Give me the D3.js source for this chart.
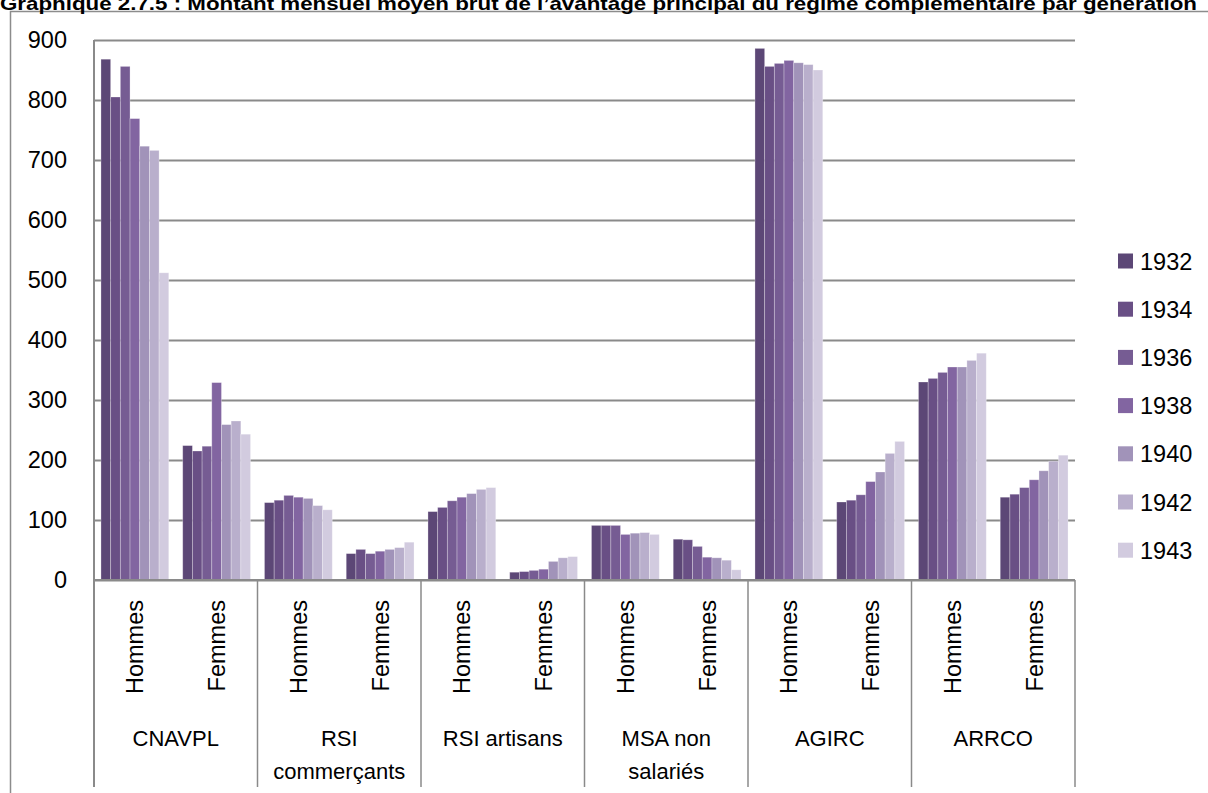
<!DOCTYPE html>
<html>
<head>
<meta charset="utf-8">
<script src="https://cdn.jsdelivr.net/npm/d3@7"></script>
<style>
  html, body { margin: 0; padding: 0; background: #fff; }
  svg { display: block; }
</style>
</head>
<body>
<svg id="chart" width="1208" height="793"></svg>
<script>
// ---- Data ----
const title = "Graphique 2.7.5 : Montant mensuel moyen brut de l’avantage principal du régime complémentaire par génération";
const groups = [["CNAVPL"], ["RSI", "commerçants"], ["RSI artisans"], ["MSA non", "salariés"], ["AGIRC"], ["ARRCO"]];
const sexes = ["Hommes", "Femmes"];
const years = ["1932", "1934", "1936", "1938", "1940", "1942", "1943"];
// values in order: CNAVPL H/F, RSI comm H/F, RSI art H/F, MSA H/F, AGIRC H/F, ARRCO H/F
const v1932 = [868, 224, 129, 44, 114, 13, 91, 68, 886, 130, 330, 138];
const v1934 = [805, 215, 133, 51, 121, 14, 91, 67, 856, 133, 336, 143];
const v1936 = [856, 223, 141, 44, 132, 16, 91, 56, 861, 142, 346, 154];
const v1938 = [769, 329, 138, 48, 138, 18, 76, 38, 866, 164, 355, 167];
const v1940 = [723, 259, 136, 51, 144, 31, 78, 37, 862, 180, 355, 182];
const v1942 = [716, 265, 124, 54, 151, 37, 79, 33, 859, 211, 366, 198];
const v1943 = [512, 243, 117, 63, 154, 39, 76, 17, 850, 231, 378, 208];
const seriesValues = [v1932, v1934, v1936, v1938, v1940, v1942, v1943];
const yTicks = [0, 100, 200, 300, 400, 500, 600, 700, 800, 900];
const colors = ["#5c4776", "#694f85", "#765c93", "#8265a1", "#a193b9", "#b9afcc", "#d2cbdf"];

// ---- Layout ----
const svg = d3.select("#chart");
const plot = { left: 94, right: 1075, top: 40, bottom: 580 };
const axisBottomEnd = 787;
const FONT = "'Liberation Sans', Arial, sans-serif";
const FS = 23.5;
const gridColor = "#8a8a8a";

// outer frame
svg.append("rect")
  .attr("x", 10.5).attr("y", 11.5)
  .attr("width", 1300).attr("height", 900)
  .attr("fill", "none").attr("stroke", "#8c8c8c").attr("stroke-width", 1.5);

// title
svg.append("text")
  .attr("x", 0).attr("y", 10)
  .attr("font-family", FONT).attr("font-weight", "bold")
  .attr("font-size", 19).attr("fill", "#000")
  .attr("textLength", 1197).attr("lengthAdjust", "spacingAndGlyphs")
  .text(title);

const subIdx = d3.range(groups.length * sexes.length);
const x0 = d3.scaleBand().domain(subIdx).range([plot.left, plot.right]).padding(0);
const x1 = d3.scaleBand().domain(years).range([0, x0.bandwidth()]).paddingInner(0).paddingOuter(0.72);
const y = d3.scaleLinear().domain([0, 900]).range([plot.bottom, plot.top]);

// gridlines + y labels via axis
const yAxis = d3.axisLeft(y).tickValues(yTicks).tickSize(-(plot.right - plot.left)).tickPadding(27).tickFormat(d3.format("d"));
const gy = svg.append("g").attr("transform", `translate(${plot.left},0)`).call(yAxis);
gy.select(".domain").remove();
gy.selectAll(".tick line").attr("stroke", gridColor).attr("stroke-width", 2);
gy.selectAll(".tick text").attr("font-family", FONT).attr("font-size", FS).attr("fill", "#000");

// bars
const barData = [];
seriesValues.forEach((vals, si) => {
  vals.forEach((v, i) => barData.push({ year: years[si], si, i, v }));
});
svg.append("g").selectAll("rect").data(barData).join("rect")
  .attr("x", d => x0(d.i) + x1(d.year))
  .attr("y", d => y(d.v))
  .attr("width", x1.bandwidth())
  .attr("height", d => y(0) - y(d.v))
  .attr("fill", d => colors[d.si])
  .attr("stroke", "rgba(255,255,255,0.35)")
  .attr("stroke-width", 0.8);

// axes lines
svg.append("line").attr("x1", plot.left).attr("x2", plot.left).attr("y1", plot.top).attr("y2", axisBottomEnd)
  .attr("stroke", gridColor).attr("stroke-width", 2);
svg.append("line").attr("x1", plot.left).attr("x2", plot.right).attr("y1", plot.bottom).attr("y2", plot.bottom)
  .attr("stroke", gridColor).attr("stroke-width", 2);

// group separators
const groupW = (plot.right - plot.left) / groups.length;
d3.range(1, groups.length + 1).forEach(k => {
  const gx = plot.left + k * groupW;
  svg.append("line").attr("x1", gx).attr("x2", gx).attr("y1", plot.bottom).attr("y2", axisBottomEnd)
    .attr("stroke", gridColor).attr("stroke-width", 1.5);
});

// sub-category labels (rotated)
svg.append("g").selectAll("text").data(subIdx).join("text")
  .attr("transform", d => `translate(${x0(d) + x0.bandwidth() / 2 + 8.5},600) rotate(-90)`)
  .attr("text-anchor", "end")
  .attr("font-family", FONT).attr("font-size", FS).attr("fill", "#000")
  .text(d => sexes[d % 2]);

// group labels
groups.forEach((lines, gi) => {
  const cx = plot.left + (gi + 0.5) * groupW;
  lines.forEach((ln, li) => {
    svg.append("text").attr("x", cx).attr("y", 746 + li * 33)
      .attr("text-anchor", "middle")
      .attr("font-family", FONT).attr("font-size", FS - 1.5).attr("fill", "#000")
      .text(ln);
  });
});

// legend
const lg = svg.append("g");
years.forEach((yr, i) => {
  const cy = 261 + i * 48.2;
  lg.append("rect").attr("x", 1118).attr("y", cy - 7.5).attr("width", 15).attr("height", 15).attr("fill", colors[i]);
  lg.append("text").attr("x", 1140).attr("y", cy + 8.5)
    .attr("font-family", FONT).attr("font-size", FS).attr("fill", "#000").text(yr);
});
</script>
</body>
</html>
